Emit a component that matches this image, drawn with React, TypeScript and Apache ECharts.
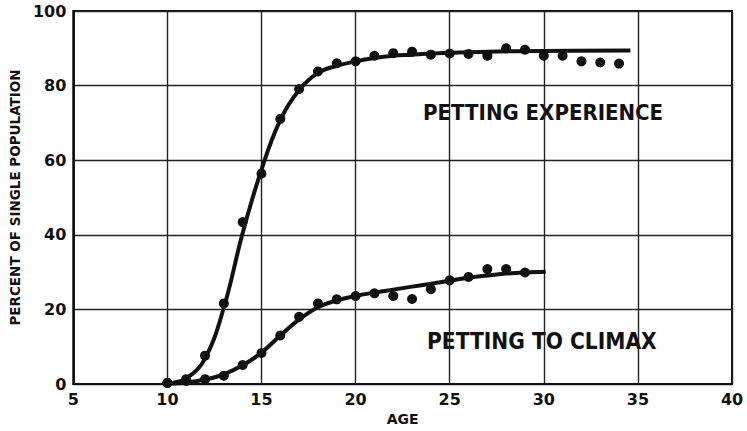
import React, { useEffect, useRef } from "react";
import * as echarts from "echarts";

// Observed data points (age, percent)
const experienceAges = [10, 11, 12, 13, 14, 15, 16, 17, 18, 19, 20, 21, 22, 23, 24, 25, 26, 27, 28, 29, 30, 31, 32, 33, 34];
const experienceValues = [0.3, 1.3, 7.6, 21.6, 43.4, 56.4, 71.1, 79.1, 83.8, 86.0, 86.5, 88.0, 88.7, 89.1, 88.3, 88.6, 88.5, 88.0, 90.0, 89.6, 88.0, 88.0, 86.5, 86.2, 85.9];

const climaxAges = [10, 11, 12, 13, 14, 15, 16, 17, 18, 19, 20, 21, 22, 23, 24, 25, 26, 27, 28, 29];
const climaxValues = [0.3, 0.8, 1.3, 2.2, 5.1, 8.3, 13.0, 18.0, 21.6, 22.7, 23.6, 24.3, 23.6, 22.8, 25.4, 27.8, 28.7, 30.8, 30.8, 29.9];

// Fitted curves as drawn (age, percent)
const experienceCurveAges = [10, 11, 12, 13, 14, 15, 16, 17, 18, 19, 20, 21, 22, 23, 24, 25, 27, 30, 34.6];
const experienceCurveValues = [0.2, 1.5, 6.8, 20.5, 40.5, 57.5, 70.8, 78.8, 83.4, 85.3, 86.5, 87.4, 88.0, 88.3, 88.6, 88.8, 89.1, 89.3, 89.4];

const climaxCurveAges = [10, 11, 12, 13, 14, 15, 16, 17, 18, 19, 20, 21, 22, 23, 24, 25, 26, 27, 28, 29, 30.1];
const climaxCurveValues = [0.1, 0.4, 1.2, 2.6, 5.0, 8.4, 13.0, 17.3, 20.6, 22.4, 23.6, 24.5, 25.3, 26.1, 26.9, 27.7, 28.5, 29.1, 29.6, 29.9, 30.1];

const xTicks = [5, 10, 15, 20, 25, 30, 35, 40];
const yTicks = [0, 20, 40, 60, 80, 100];

const curveLabels = ["PETTING EXPERIENCE", "PETTING TO CLIMAX"];
const xTitle = "AGE";
const yTitle = "PERCENT OF SINGLE POPULATION";

const zip = (a: number[], b: number[]) => a.map((v, i) => [v, b[i]]);

export default function App() {
  const ref = useRef<HTMLDivElement>(null);
  useEffect(() => {
    if (!ref.current) return;
    const chart = echarts.init(ref.current, undefined, { renderer: "svg" });
    const ink = "#111";
    chart.setOption({
      animation: false,
      backgroundColor: "#fff",
      grid: {
        left: 66,
        right: 15,
        top: 11,
        bottom: 45,
        show: true,
        borderColor: ink,
        borderWidth: 2,
        backgroundColor: "transparent",
      },
      xAxis: {
        type: "value",
        min: xTicks[0],
        max: xTicks[xTicks.length - 1],
        interval: 5,
        name: xTitle,
        nameLocation: "middle",
        nameGap: 28,
        nameTextStyle: { fontFamily: "DejaVu Sans", fontWeight: "bold", fontSize: 14, color: ink },
        axisLine: { show: true, lineStyle: { color: ink, width: 2 } },
        axisTick: { show: false },
        splitLine: { show: true, lineStyle: { color: "#222", width: 1.4 } },
        axisLabel: { margin: 7, fontFamily: "DejaVu Sans", fontWeight: "bold", fontSize: 16, color: ink },
      },
      yAxis: {
        type: "value",
        min: yTicks[0],
        max: yTicks[yTicks.length - 1],
        interval: 20,
        name: yTitle,
        nameLocation: "middle",
        nameGap: 47,
        nameRotate: 90,
        nameTextStyle: { fontFamily: "DejaVu Sans", fontWeight: "bold", fontSize: 13.5, color: ink },
        axisLine: { show: true, lineStyle: { color: ink, width: 2 } },
        axisTick: { show: false },
        splitLine: { show: true, lineStyle: { color: "#222", width: 1.4 } },
        axisLabel: { margin: 7, fontFamily: "DejaVu Sans", fontWeight: "bold", fontSize: 16, color: ink },
      },
      graphic: [
        {
          type: "text",
          left: 423,
          top: 101,
          style: {
            text: curveLabels[0],
            fontFamily: "DejaVu Sans Condensed",
            fontWeight: "bold",
            fontSize: 22,
            fill: ink,
          },
        },
        {
          type: "text",
          left: 427,
          top: 329,
          style: {
            text: curveLabels[1],
            fontFamily: "DejaVu Sans Condensed",
            fontWeight: "bold",
            fontSize: 22.5,
            fill: ink,
          },
        },
      ],
      series: [
        {
          type: "line",
          data: zip(experienceCurveAges, experienceCurveValues),
          smooth: 0.4,
          showSymbol: false,
          lineStyle: { color: ink, width: 4 },
          silent: true,
        },
        {
          type: "line",
          data: zip(climaxCurveAges, climaxCurveValues),
          smooth: 0.4,
          showSymbol: false,
          lineStyle: { color: ink, width: 4 },
          silent: true,
        },
        {
          type: "scatter",
          data: zip(experienceAges, experienceValues),
          symbolSize: 10,
          itemStyle: { color: ink, opacity: 1 },
        },
        {
          type: "scatter",
          data: zip(climaxAges, climaxValues),
          symbolSize: 10,
          itemStyle: { color: ink, opacity: 1 },
        },
      ],
    });
    return () => chart.dispose();
  }, []);
  return (
    <div
      ref={ref}
      style={{ position: "fixed", left: 0, top: 0, width: 747, height: 431, background: "#fff" }}
    />
  );
}
